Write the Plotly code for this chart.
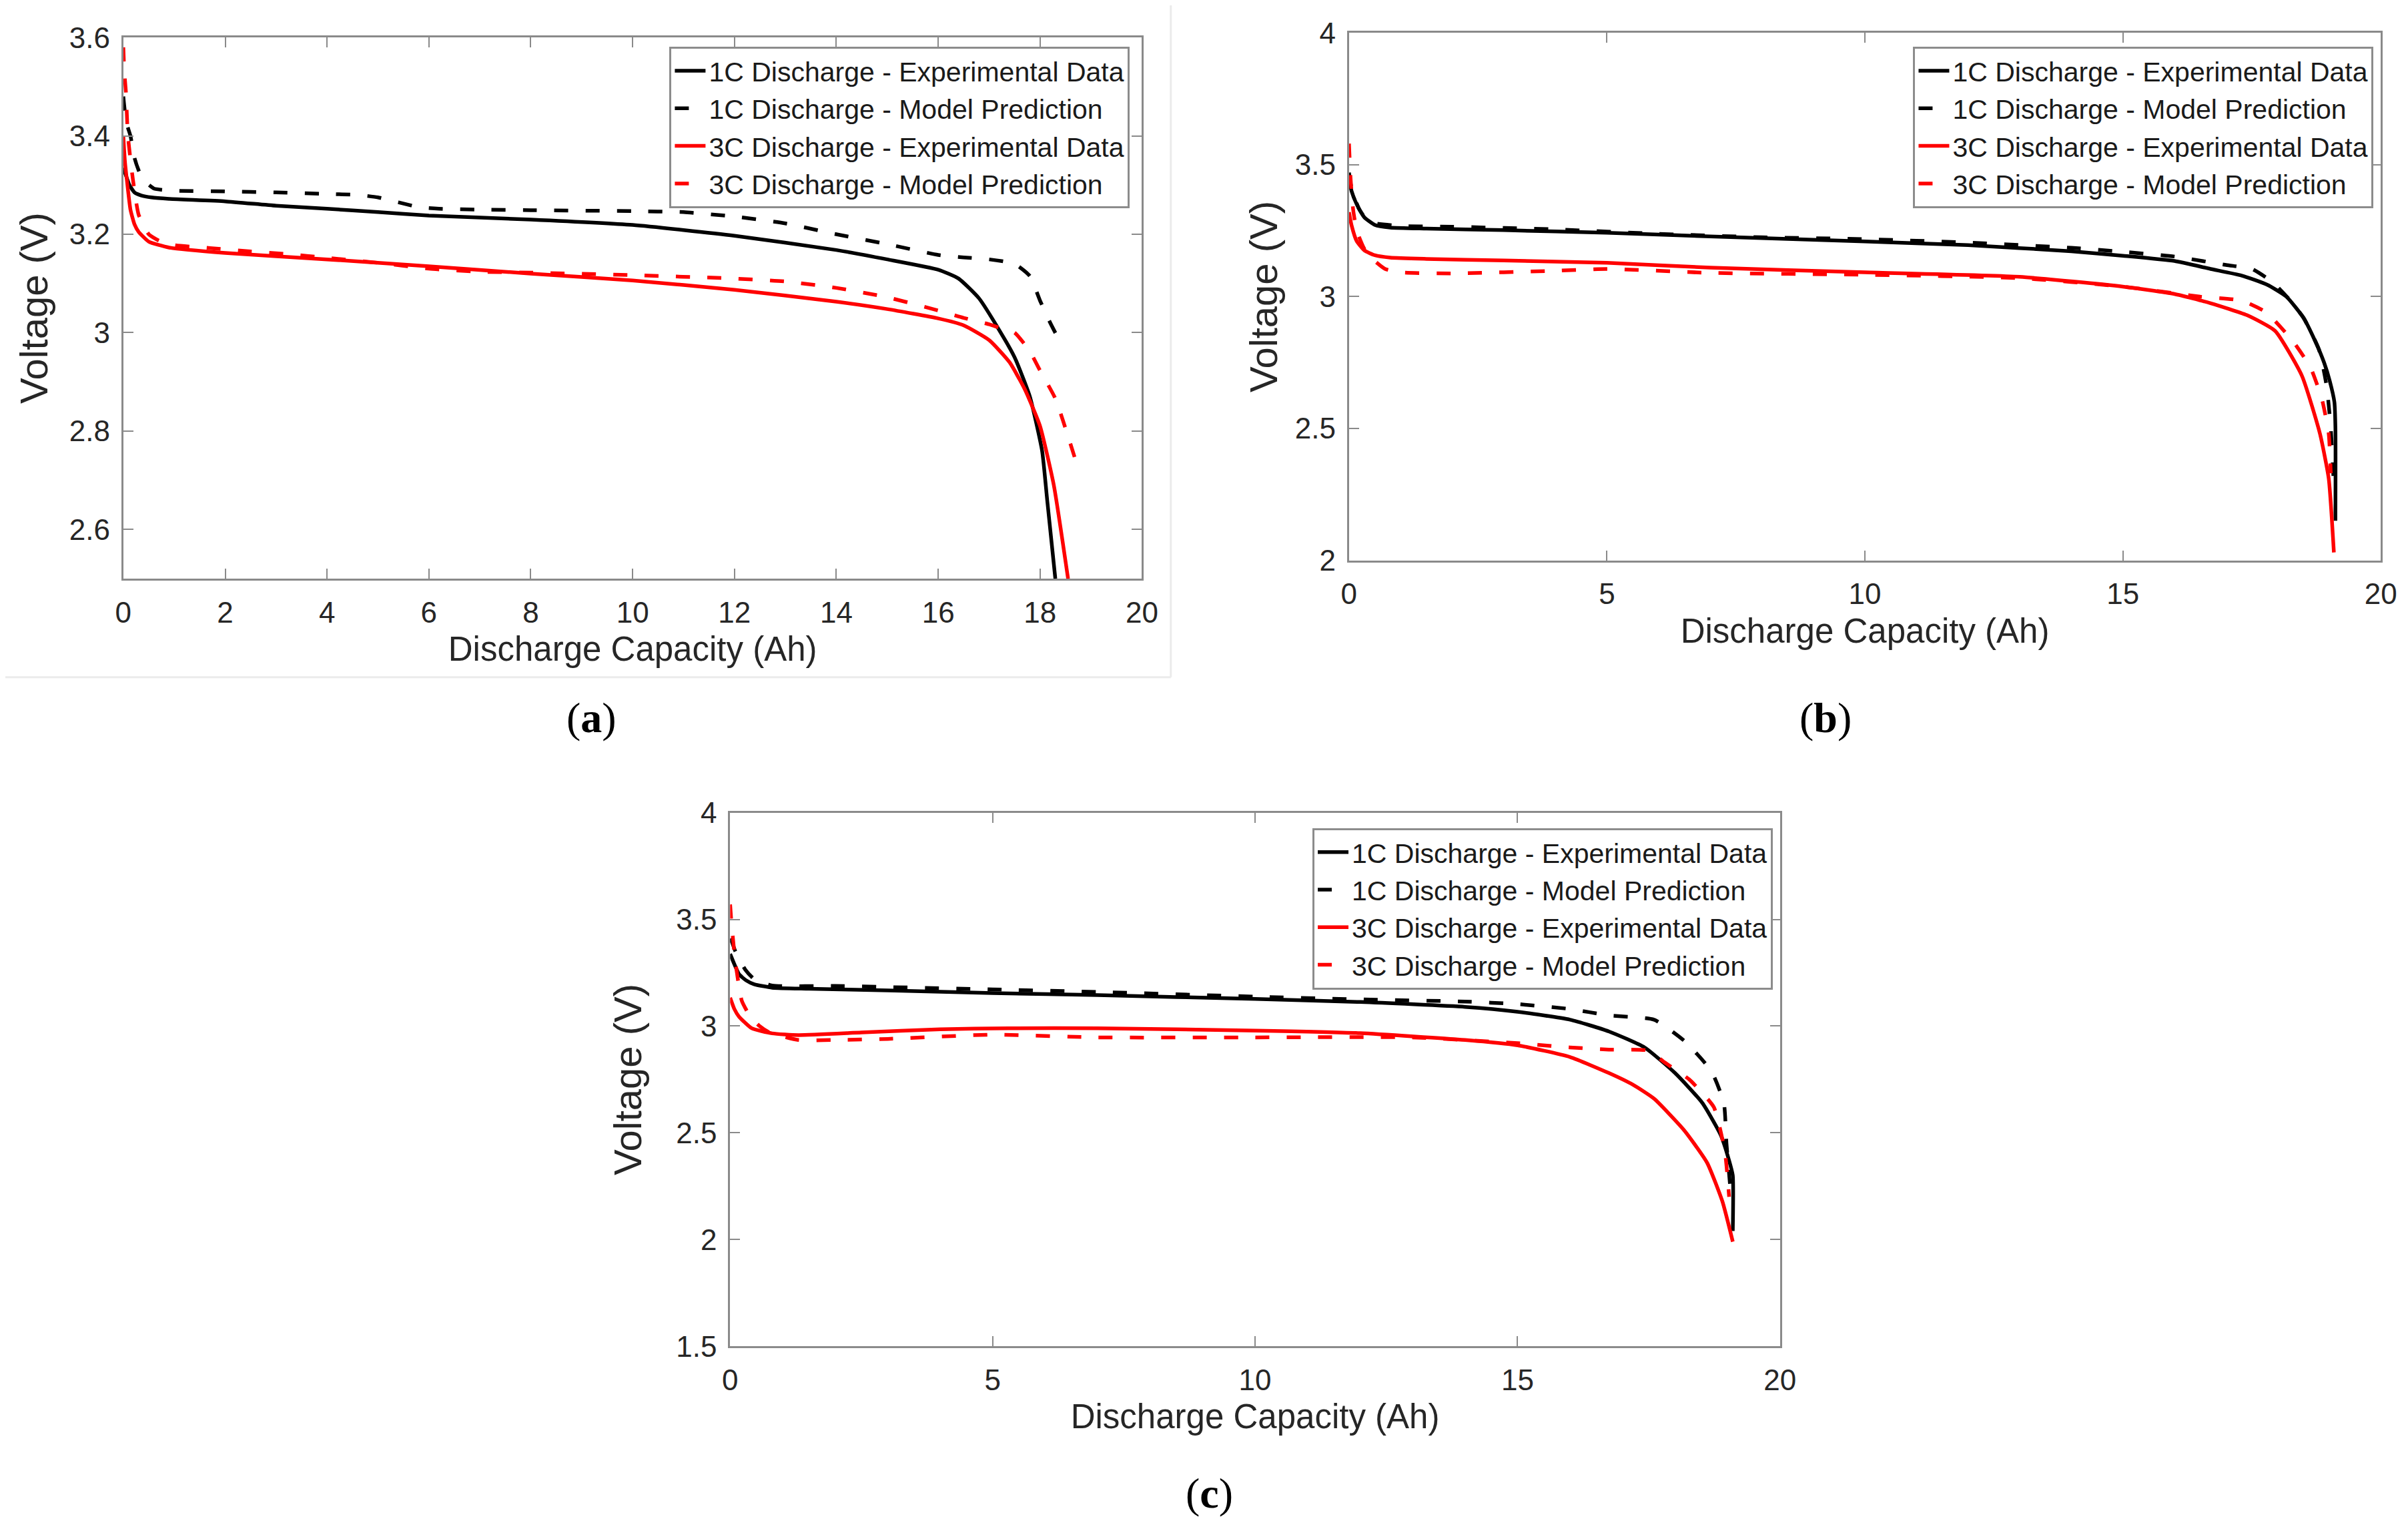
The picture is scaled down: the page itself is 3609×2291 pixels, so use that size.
import plotly.graph_objects as go

# ---------------- data (Ah, V) ----------------
# panel (a)
A_1C_EXP_X = [0, 0.05, 0.12, 0.22, 0.35, 0.55, 0.9, 2, 3, 4, 5, 6, 8, 10, 12, 14, 15, 16,
              16.4, 16.8, 17.2, 17.5, 17.8, 18.04, 18.14, 18.3]
A_1C_EXP_Y = [3.335, 3.32, 3.30, 3.285, 3.279, 3.275, 3.272, 3.267, 3.258, 3.252, 3.245, 3.238,
              3.230, 3.219, 3.197, 3.168, 3.149, 3.128, 3.11, 3.07, 3.005, 2.95, 2.87, 2.76,
              2.66, 2.50]
A_1C_MOD_X = [0, 0.03, 0.08, 0.14, 0.22, 0.32, 0.45, 0.6, 0.9, 2, 3, 4, 4.6, 5.0, 5.4, 5.8,
              6.2, 7, 8, 10, 11, 12, 13, 14, 15, 16, 16.5, 17, 17.5, 17.8, 18.0, 18.2, 18.4]
A_1C_MOD_Y = [3.48, 3.45, 3.42, 3.40, 3.355, 3.325, 3.305, 3.293, 3.289, 3.287, 3.285, 3.282,
              3.28, 3.275, 3.265, 3.255, 3.252, 3.25, 3.249, 3.247, 3.245, 3.236, 3.222, 3.20,
              3.18, 3.158, 3.153, 3.149, 3.14, 3.115, 3.065, 3.02, 2.98]
A_3C_EXP_X = [0, 0.03, 0.07, 0.14, 0.22, 0.3, 0.5, 0.9, 2, 4, 6, 8, 10, 12, 14, 15, 16, 16.5,
              17, 17.4, 17.7, 18.0, 18.27, 18.55]
A_3C_EXP_Y = [3.40, 3.35, 3.31, 3.25, 3.22, 3.205, 3.185, 3.173, 3.162, 3.149, 3.135, 3.12,
              3.106, 3.087, 3.063, 3.048, 3.029, 3.015, 2.985, 2.94, 2.885, 2.81, 2.69, 2.50]
A_3C_MOD_X = [0, 0.02, 0.05, 0.09, 0.19, 0.3, 0.5, 0.7, 1.0, 1.7, 2.5, 3.2, 4, 5, 6, 7, 8, 10,
              12, 13, 14, 15, 16, 16.5, 17, 17.2, 17.5, 17.8, 18.0, 18.3, 18.7]
A_3C_MOD_Y = [3.58, 3.53, 3.49, 3.40, 3.31, 3.24, 3.20, 3.187, 3.178, 3.172, 3.165, 3.16,
              3.152, 3.142, 3.13, 3.124, 3.122, 3.117, 3.11, 3.104, 3.091, 3.072, 3.045, 3.03,
              3.017, 3.01, 3.0, 2.962, 2.923, 2.866, 2.74]

# panel (b)
B_1C_EXP_X = [0, 0.05, 0.15, 0.3, 0.5, 0.8, 1.5, 3, 5, 7, 10, 12, 14, 15, 16, 16.7, 17.3, 17.8,
              18.17, 18.5, 18.73, 18.9, 19.01, 19.1, 19.12, 19.12]
B_1C_EXP_Y = [3.45, 3.40, 3.35, 3.30, 3.272, 3.262, 3.258, 3.252, 3.242, 3.228, 3.209, 3.195,
              3.172, 3.155, 3.135, 3.105, 3.08, 3.045, 3.0, 2.92, 2.83, 2.75, 2.68, 2.60, 2.50,
              2.15]
B_1C_MOD_X = [0, 0.04, 0.1, 0.2, 0.35, 0.5, 1, 2, 4, 6, 8, 10, 12, 14, 15, 16, 17, 17.5, 17.9,
              18.2, 18.5, 18.8, 18.95, 19.03, 19.08]
B_1C_MOD_Y = [3.47, 3.42, 3.38, 3.33, 3.29, 3.278, 3.268, 3.265, 3.255, 3.238, 3.225, 3.218,
              3.205, 3.185, 3.17, 3.152, 3.12, 3.105, 3.055, 2.995, 2.92, 2.80, 2.66, 2.50, 2.32]
B_3C_EXP_X = [0, 0.05, 0.15, 0.3, 0.5, 0.8, 1.5, 3, 5, 7, 10, 13, 15, 16, 16.7, 17.4, 17.95,
              18.47, 18.82, 18.99, 19.09]
B_3C_EXP_Y = [3.32, 3.27, 3.21, 3.175, 3.157, 3.148, 3.143, 3.137, 3.128, 3.11, 3.092, 3.075,
              3.038, 3.01, 2.975, 2.93, 2.87, 2.70, 2.48, 2.31, 2.03]
B_3C_MOD_X = [0, 0.03, 0.08, 0.15, 0.3, 0.5, 0.7, 1, 2, 4, 5, 7, 10, 13, 15, 16.5, 17.3, 17.78,
              18.3, 18.64, 18.86, 18.99, 19.03]
B_3C_MOD_Y = [3.58, 3.45, 3.33, 3.25, 3.18, 3.135, 3.105, 3.092, 3.088, 3.098, 3.105, 3.09,
              3.083, 3.07, 3.038, 3.0, 2.985, 2.94, 2.83, 2.73, 2.61, 2.48, 2.33]

# panel (c)
C_1C_EXP_X = [0, 0.08, 0.17, 0.3, 0.46, 0.8, 1.5, 3, 5, 7, 10, 12, 14, 15, 16, 16.74, 17.42,
              18.0, 18.52, 18.87, 19.03, 19.1, 19.1]
C_1C_EXP_Y = [3.338, 3.29, 3.243, 3.215, 3.196, 3.18, 3.175, 3.167, 3.155, 3.145, 3.127, 3.113,
              3.09, 3.067, 3.03, 2.975, 2.90, 2.78, 2.64, 2.49, 2.37, 2.30, 2.04]
C_1C_MOD_X = [0, 0.04, 0.1, 0.29, 0.46, 0.8, 2, 5, 7, 10, 12, 14, 15, 16, 16.74, 17.6, 18.18,
              18.69, 18.93, 18.98, 19.05]
C_1C_MOD_Y = [3.41, 3.39, 3.35, 3.264, 3.22, 3.19, 3.188, 3.172, 3.16, 3.138, 3.125, 3.115,
              3.103, 3.08, 3.05, 3.03, 2.93, 2.79, 2.64, 2.45, 2.25]
C_3C_EXP_X = [0, 0.08, 0.17, 0.41, 0.8, 1.3, 2.5, 4, 5.3, 7, 10, 12, 14, 15, 16, 16.74, 17.2,
              17.6, 18.18, 18.61, 18.9, 19.1]
C_3C_EXP_Y = [3.133, 3.08, 3.044, 2.99, 2.966, 2.958, 2.97, 2.985, 2.99, 2.99, 2.979, 2.967,
              2.935, 2.91, 2.855, 2.78, 2.725, 2.66, 2.51, 2.36, 2.18, 1.99]
C_3C_MOD_X = [0, 0.02, 0.05, 0.1, 0.22, 0.37, 0.56, 0.75, 1.3, 2, 3, 5, 7, 10, 13, 15, 16,
              16.74, 17.5, 17.8, 18.27, 18.74, 18.95, 19.03]
C_3C_MOD_Y = [3.57, 3.50, 3.42, 3.30, 3.12, 3.05, 3.0, 2.97, 2.935, 2.935, 2.94, 2.96, 2.947,
              2.947, 2.947, 2.92, 2.90, 2.89, 2.885, 2.83, 2.75, 2.62, 2.41, 2.20]

NAMES = ["1C Discharge - Experimental Data", "1C Discharge - Model Prediction",
         "3C Discharge - Experimental Data", "3C Discharge - Model Prediction"]

PANELS = [
    ("x", "y", "legend", [(A_1C_EXP_X, A_1C_EXP_Y), (A_1C_MOD_X, A_1C_MOD_Y),
                          (A_3C_EXP_X, A_3C_EXP_Y), (A_3C_MOD_X, A_3C_MOD_Y)]),
    ("x2", "y2", "legend2", [(B_1C_EXP_X, B_1C_EXP_Y), (B_1C_MOD_X, B_1C_MOD_Y),
                             (B_3C_EXP_X, B_3C_EXP_Y), (B_3C_MOD_X, B_3C_MOD_Y)]),
    ("x3", "y3", "legend3", [(C_1C_EXP_X, C_1C_EXP_Y), (C_1C_MOD_X, C_1C_MOD_Y),
                             (C_3C_EXP_X, C_3C_EXP_Y), (C_3C_MOD_X, C_3C_MOD_Y)]),
]

COLORS = ["#000000", "#000000", "#ff0000", "#ff0000"]
DASHES = ["solid", "21px,26px", "solid", "21px,26px"]

FONT = "Liberation Sans, Arial, sans-serif"
TXT = "#262626"
AX = "#8a8a8a"

fig = go.Figure()
for xa, ya, leg, series in PANELS:
    for i, (xs, ys) in enumerate(series):
        fig.add_trace(go.Scatter(x=xs, y=ys, mode="lines", name=NAMES[i],
                                 xaxis=xa, yaxis=ya, legend=leg,
                                 line=dict(color=COLORS[i], width=5.5, dash=DASHES[i],
                                           shape="spline", smoothing=0.5)))


def xax(domain, anchor, dtick):
    return dict(domain=domain, anchor=anchor, range=[0, 20], dtick=dtick, tick0=0,
                automargin=False,
                showgrid=False, zeroline=False, showline=True, linecolor=AX, linewidth=3,
                mirror="ticks", ticks="inside", ticklen=15, tickwidth=2, tickcolor=AX,
                ticklabelstandoff=10,
                tickfont=dict(family=FONT, size=44, color=TXT),
                title=dict(text="Discharge Capacity (Ah)", standoff=14,
                           font=dict(family=FONT, size=51, color=TXT)))


def yax(domain, anchor, rng, dtick, standoff):
    return dict(domain=domain, anchor=anchor, range=rng, dtick=dtick, tick0=0,
                automargin=False,
                showgrid=False, zeroline=False, showline=True, linecolor=AX, linewidth=3,
                mirror="ticks", ticks="inside", ticklen=15, tickwidth=2, tickcolor=AX,
                ticklabelstandoff=8,
                tickfont=dict(family=FONT, size=44, color=TXT),
                title=dict(text="Voltage (V)", standoff=standoff,
                           font=dict(family=FONT, size=58, color=TXT)))


def legend(x, y):
    return dict(x=x, y=y, xanchor="right", yanchor="top", bgcolor="white",
                bordercolor="#8c8c8c", borderwidth=3, tracegroupgap=0, itemwidth=46,
                font=dict(family=FONT, size=41, color="#1a1a1a"))


fig.update_layout(
    width=3609, height=2291, paper_bgcolor="white", plot_bgcolor="white",
    margin=dict(l=0, r=0, t=0, b=0, autoexpand=False), showlegend=True,
    xaxis=xax([0.049, 0.472], "y", 2),
    yaxis=yax([0.625, 0.979], "x", [2.5, 3.6], 0.2, 14),
    xaxis2=xax([0.558, 0.9865], "y2", 5),
    yaxis2=yax([0.637, 0.982], "x2", [2, 4], 0.5, 8),
    xaxis3=xax([0.301, 0.737], "y3", 5),
    yaxis3=yax([0.123, 0.472], "x3", [1.5, 4], 0.5, 34),
    legend=legend(0.467, 0.973),
    legend2=legend(0.9835, 0.973),
    legend3=legend(0.734, 0.462),
)

# sub-figure labels
for txt, lx, ly in [("a", 0.2435, 0.534), ("b", 0.756, 0.534), ("c", 0.500, 0.027)]:
    fig.add_annotation(xref="paper", yref="paper", x=lx, y=ly, showarrow=False,
                       xanchor="center", yanchor="middle",
                       text=f"(<b>{txt}</b>)",
                       font=dict(family="Liberation Serif, serif", size=64, color="#000000"))

# faint frame of the pasted panel (a)
fig.add_shape(type="line", xref="paper", yref="paper", x0=0, x1=0.484, y0=0.5606, y1=0.5606,
              line=dict(color="#ebebeb", width=3))
fig.add_shape(type="line", xref="paper", yref="paper", x0=0.484, x1=0.484, y0=0.5606, y1=1,
              line=dict(color="#ebebeb", width=3))

fig.write_html("out.html")
